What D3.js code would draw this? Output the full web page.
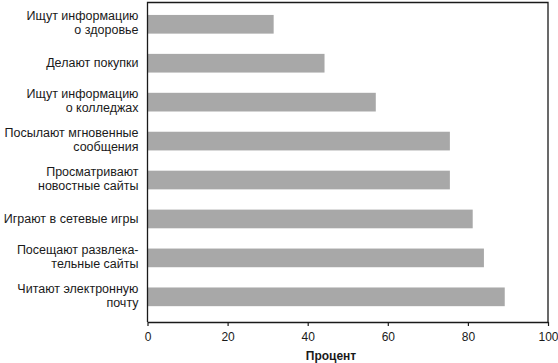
<!DOCTYPE html>
<html>
<head>
<meta charset="utf-8">
<script src="https://cdn.jsdelivr.net/npm/d3@7"></script>
<style>
  body { margin: 0; background: #fff; }
  text { font-family: "Liberation Sans", Arial, sans-serif; fill: #1a1a1a; }
</style>
</head>
<body>
<script>
// Categories (top to bottom), each split into display lines
const categories = [
    ["Ищут информацию", "о здоровье"],
    ["Делают покупки"],
    ["Ищут информацию", "о колледжах"],
    ["Посылают мгновенные", "сообщения"],
    ["Просматривают", "новостные сайты"],
    ["Играют в сетевые игры"],
    ["Посещают развлека-", "тельные сайты"],
    ["Читают электронную", "почту"]
];
const values = [31.5, 44.2, 57, 75.5, 75.5, 81.2, 84, 89.2];
const xTicks = [0, 20, 40, 60, 80, 100];
const xLabel = "Процент";

const W = 558, H = 363;
const margin = { top: 2.5, right: 10, bottom: 41, left: 147.5 };
const width = W - margin.left - margin.right,
    height = H - margin.top - margin.bottom;

const svg = d3.select("body").append("svg")
    .attr("width", W)
    .attr("height", H);

const g = svg.append("g")
    .attr("transform", `translate(${margin.left}, ${margin.top})`);

const x = d3.scaleLinear().domain([0, 100]).range([0, width]);
const y = d3.scaleBand()
    .domain(d3.range(categories.length))
    .range([0, height])
    .paddingInner(0.52)
    .paddingOuter(0.363)
    .align(0.44);

// bars
g.selectAll(".bar")
    .data(values)
    .join("rect")
    .attr("class", "bar")
    .attr("x", 0)
    .attr("y", (d, i) => y(i))
    .attr("width", d => x(d))
    .attr("height", y.bandwidth())
    .attr("fill", "#a8a8a8");

// frame (top, right, left)
g.append("path")
    .attr("d", `M0,${height}V0H${width}V${height}`)
    .attr("fill", "none")
    .attr("stroke", "#1a1a1a")
    .attr("stroke-width", 1.3);

// x axis
const xAxis = g.append("g")
    .attr("transform", `translate(0, ${height})`)
    .call(d3.axisBottom(x).tickValues(xTicks).tickSize(4).tickPadding(6).tickSizeOuter(0));
xAxis.select(".domain").attr("stroke", "#1a1a1a").attr("stroke-width", 1.3);
xAxis.selectAll(".tick line").attr("stroke", "#1a1a1a").attr("stroke-width", 1.2);
xAxis.selectAll(".tick text")
    .attr("font-family", "'Liberation Sans', Arial, sans-serif")
    .attr("font-size", 12)
    .attr("fill", "#1a1a1a");

// category labels
const labels = g.selectAll(".cat")
    .data(categories)
    .join("text")
    .attr("class", "cat")
    .attr("text-anchor", "end")
    .attr("font-size", 12.5)
    .attr("transform", (d, i) => `translate(-9, ${y(i) + y.bandwidth() / 2})`);

labels.each(function (lines) {
    const t = d3.select(this);
    const start = lines.length === 1 ? 4 : -4;
    lines.forEach((line, k) => {
        t.append("tspan")
            .attr("x", 0)
            .attr("y", start + k * 14)
            .text(line);
    });
});

// axis title
svg.append("text")
    .attr("x", 331)
    .attr("y", 360)
    .attr("text-anchor", "middle")
    .attr("font-size", 12)
    .attr("font-weight", "bold")
    .text(xLabel);
</script>
</body>
</html>
